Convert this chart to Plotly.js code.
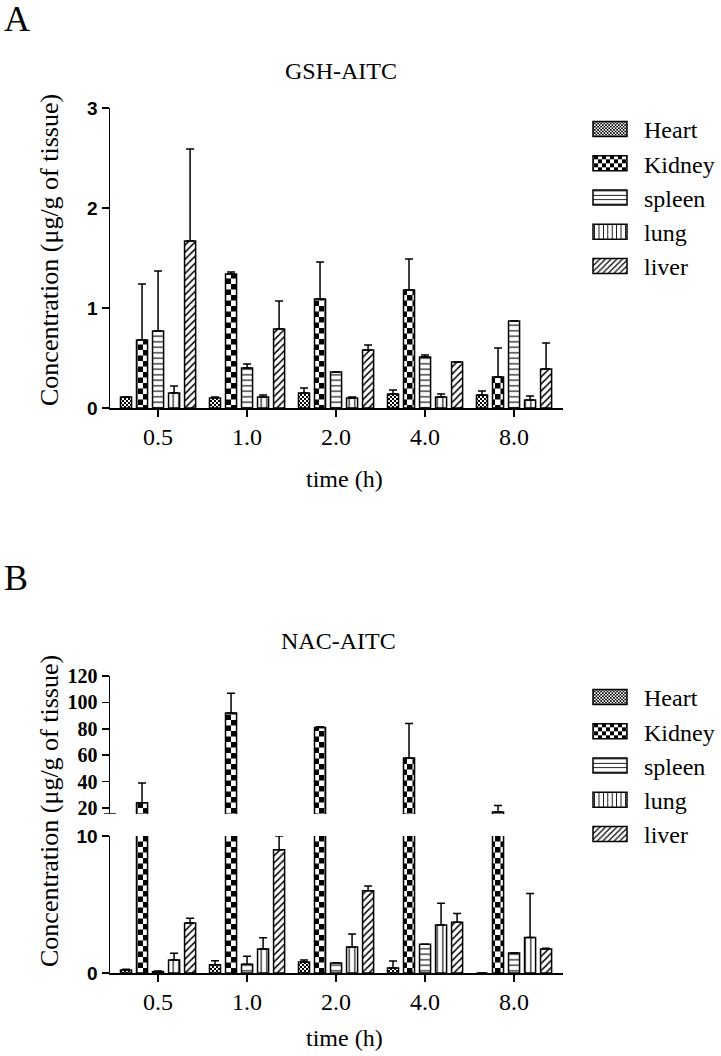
<!DOCTYPE html>
<html>
<head>
<meta charset="utf-8">
<script src="https://cdn.plot.ly/plotly-3.0.1.min.js"></script>
<style>html,body{margin:0;padding:0;background:#fff;}#chart{width:721px;height:1056px;}</style>
</head>
<body>
<div id="chart"></div>
<script>
// ---- data ----
const times = ['0.5', '1.0', '2.0', '4.0', '8.0'];
const organs = ['Heart', 'Kidney', 'spleen', 'lung', 'liver'];

// GSH-AITC (µg/g) mean and SD (upper error only)
const gshHeart  = [0.11, 0.10, 0.15, 0.14, 0.13];
const gshKidney = [0.68, 1.34, 1.09, 1.18, 0.31];
const gshSpleen = [0.77, 0.40, 0.36, 0.51, 0.87];
const gshLung   = [0.15, 0.11, 0.10, 0.11, 0.08];
const gshLiver  = [1.67, 0.79, 0.58, 0.46, 0.39];
const gshHeartErr  = [0.00, 0.01, 0.05, 0.04, 0.04];
const gshKidneyErr = [0.56, 0.02, 0.37, 0.31, 0.29];
const gshSpleenErr = [0.60, 0.04, 0.00, 0.02, 0.00];
const gshLungErr   = [0.07, 0.02, 0.01, 0.03, 0.04];
const gshLiverErr  = [0.92, 0.28, 0.05, 0.00, 0.26];

// NAC-AITC (µg/g) mean and SD (upper error only)
const nacHeart  = [0.22, 0.60, 0.80, 0.37, 0.00];
const nacKidney = [24, 92, 81, 58, 17];
const nacSpleen = [0.10, 0.63, 0.73, 2.10, 1.46];
const nacLung   = [0.95, 1.75, 1.90, 3.50, 2.60];
const nacLiver  = [3.65, 9.00, 6.00, 3.70, 1.75];
const nacHeartErr  = [0.05, 0.30, 0.15, 0.50, 0.00];
const nacKidneyErr = [15, 15, 0.5, 26, 5];
const nacSpleenErr = [0.05, 0.60, 0.00, 0.00, 0.00];
const nacLungErr   = [0.50, 0.83, 0.95, 1.60, 3.20];
const nacLiverErr  = [0.35, 1.00, 0.35, 0.65, 0.05];

const gshMeans = [gshHeart, gshKidney, gshSpleen, gshLung, gshLiver];
const gshErrs  = [gshHeartErr, gshKidneyErr, gshSpleenErr, gshLungErr, gshLiverErr];
const nacMeans = [nacHeart, nacKidney, nacSpleen, nacLung, nacLiver];
const nacErrs  = [nacHeartErr, nacKidneyErr, nacSpleenErr, nacLungErr, nacLiverErr];

// ---- styles ----
const HEART_SIZE = 4, KIDNEY_SIZE = 11;
const patterns = [
  {shape: '.', size: HEART_SIZE, solidity: 0.3},
  {shape: '.', size: KIDNEY_SIZE, solidity: 0.3},
  {shape: '-', size: 5.5, solidity: 0.2},
  {shape: '|', size: 5.5, solidity: 0.2},
  {shape: '/', size: 5, solidity: 0.3}
];
const SERIF = 'Liberation Serif, Times New Roman, serif';
const SANS = 'Liberation Sans, Arial, sans-serif';

function makeTrace(i, means, errs, xa, ya, legendName, show) {
  const p = patterns[i];
  return {
    type: 'bar', name: organs[i], x: times, y: means[i],
    xaxis: xa, yaxis: ya, legend: legendName, showlegend: show,
    marker: {
      color: 'white',
      line: {color: 'black', width: 1.5},
      pattern: {shape: p.shape, size: p.size, solidity: p.solidity, fgcolor: 'black', bgcolor: 'white', fillmode: 'replace'}
    },
    error_y: {type: 'data', symmetric: false, array: errs[i], arrayminus: errs[i].map(() => 0),
              color: 'black', thickness: 1.5, width: 4}
  };
}

const data = [];
for (let i = 0; i < 5; i++) data.push(makeTrace(i, gshMeans, gshErrs, 'x', 'y', 'legend', true));
for (let i = 0; i < 5; i++) data.push(makeTrace(i, nacMeans, nacErrs, 'x2', 'y2', 'legend2', true));
for (let i = 0; i < 5; i++) data.push(makeTrace(i, nacMeans, nacErrs, 'x2', 'y3', 'legend2', false));

const W = 721, H = 1056;
const px = v => v / W, py = v => 1 - v / H;
const xDom = [px(110), px(563)];
const xRange = [-0.54, 4.55];

const xAxisBase = {
  type: 'category', domain: xDom, range: xRange,
  showline: true, linecolor: 'black', linewidth: 1.5, mirror: false,
  ticks: 'outside', ticklen: 7, tickwidth: 1.5, tickcolor: 'black',
  tickfont: {family: SERIF, size: 24, color: 'black'},
  showgrid: false, zeroline: false, fixedrange: true
};
const yAxisBase = {
  showline: true, linecolor: 'black', linewidth: 1.5,
  ticks: 'outside', ticklen: 7, tickwidth: 1.5, tickcolor: 'black',
  tickfont: {family: SANS, size: 19, color: 'black', weight: 'bold'},
  showgrid: false, zeroline: false, fixedrange: true, ticklabelstandoff: 0
};

const annFont = {family: SERIF, size: 24, color: 'black'};
const yTitleFont = {family: SERIF, size: 26, color: 'black'};
const annotations = [
  {text: 'A', x: px(2), y: py(19), xanchor: 'left', yanchor: 'middle', font: {family: SERIF, size: 36, color: 'black'}},
  {text: 'B', x: px(2), y: py(578), xanchor: 'left', yanchor: 'middle', font: {family: SERIF, size: 36, color: 'black'}},
  {text: 'GSH-AITC', x: px(341), y: py(71), xanchor: 'center', yanchor: 'middle', font: annFont},
  {text: 'NAC-AITC', x: px(338), y: py(641), xanchor: 'center', yanchor: 'middle', font: annFont},
  {text: 'time (h)', x: px(344), y: py(479), xanchor: 'center', yanchor: 'middle', font: annFont},
  {text: 'time (h)', x: px(344), y: py(1038), xanchor: 'center', yanchor: 'middle', font: annFont},
  {text: 'Concentration (μg/g of tissue)', x: px(49), y: py(250), textangle: -90, xanchor: 'center', yanchor: 'middle', font: yTitleFont},
  {text: 'Concentration (μg/g of tissue)', x: px(49), y: py(811), textangle: -90, xanchor: 'center', yanchor: 'middle', font: yTitleFont}
].map(a => Object.assign({xref: 'paper', yref: 'paper', showarrow: false}, a));

const legendBase = {
  xanchor: 'left', yanchor: 'top', bgcolor: 'rgba(0,0,0,0)', borderwidth: 0,
  font: {family: SERIF, size: 24, color: 'black'}, itemwidth: 58, tracegroupgap: 0
};

const layout = {
  width: W, height: H, margin: {l: 0, r: 0, t: 0, b: 0},
  paper_bgcolor: 'white', plot_bgcolor: 'white',
  barmode: 'group', bargap: 0.1, bargroupgap: 0.31,
  xaxis: Object.assign({}, xAxisBase, {anchor: 'y'}),
  yaxis: Object.assign({}, yAxisBase, {anchor: 'x', domain: [py(408), py(108)], range: [0, 3], tickvals: [0, 1, 2, 3]}),
  xaxis2: Object.assign({}, xAxisBase, {anchor: 'y2'}),
  yaxis2: Object.assign({}, yAxisBase, {anchor: 'x2', domain: [py(973), py(836)], range: [0, 10], tickvals: [0, 10]}),
  yaxis3: Object.assign({}, yAxisBase, {anchor: 'x2', domain: [py(814), py(676)], range: [15.5, 120],
           tickvals: [20, 40, 60, 80, 100, 120],
           tickfont: {family: SERIF, size: 20, color: 'black', weight: 'bold'}}),
  legend: Object.assign({}, legendBase, {x: px(576), y: py(107)}),
  legend2: Object.assign({}, legendBase, {x: px(576), y: py(675)}),
  annotations: annotations,
  shapes: [
    {type: 'line', xref: 'paper', yref: 'y3', x0: px(104), x1: px(116), y0: 15.5, y1: 15.5,
     line: {color: 'black', width: 1.5}}
  ]
};

function restyleDom(gd) {
  // checkerboard fills for Heart and Kidney (the '.'-shaped patterns)
  const ns = 'http://www.w3.org/2000/svg';
  gd.querySelectorAll('pattern').forEach(p => {
    if (!p.querySelector('circle')) return;
    const w = parseFloat(p.getAttribute('width'));
    if (!(w > 0)) return;
    const cell = w / 2;
    while (p.firstChild) p.removeChild(p.firstChild);
    const mk = (x, y, s, fill) => {
      const r = document.createElementNS(ns, 'rect');
      r.setAttribute('x', x); r.setAttribute('y', y);
      r.setAttribute('width', s); r.setAttribute('height', s);
      r.setAttribute('fill', fill); p.appendChild(r);
    };
    mk(0, 0, 2 * cell, 'white');
    mk(0, 0, cell, 'black');
    mk(cell, cell, cell, 'black');
  });
  // wider legend swatches (both legends)
  gd.querySelectorAll('.legendpoints path').forEach(path => {
    path.setAttribute('d', 'M17,7.5H-17V-7.5H17Z');
  });
}

Plotly.newPlot('chart', data, layout, {displayModeBar: false, staticPlot: true}).then(gd => restyleDom(gd));
</script>
</body>
</html>
